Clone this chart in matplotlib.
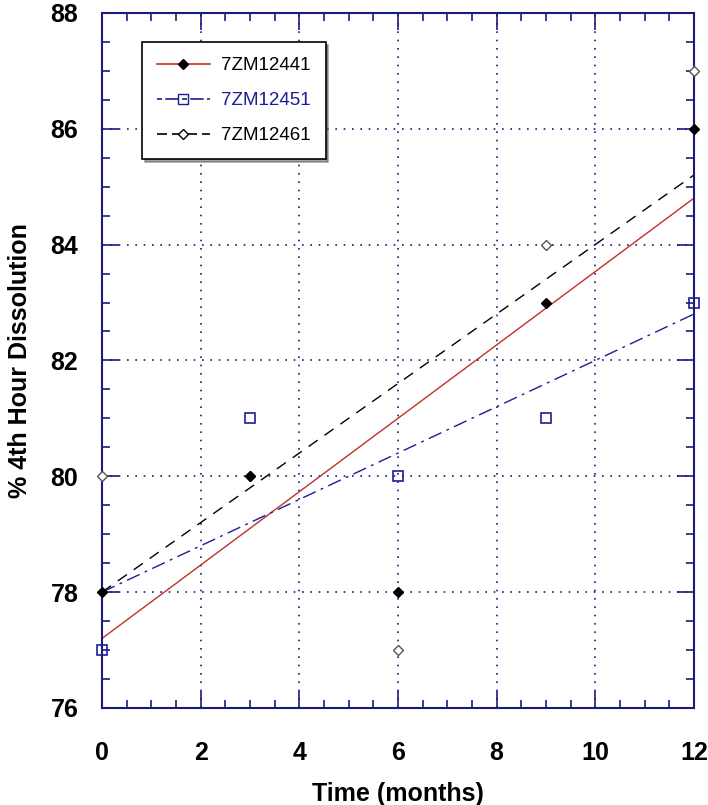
import numpy as np
import matplotlib.pyplot as plt
from matplotlib.ticker import MultipleLocator
from matplotlib.lines import Line2D

months = [0, 3, 6, 9, 12]
lot_441 = [78, 80, 78, 83, 86]
lot_451 = [77, 81, 80, 81, 83]
lot_461 = [80, 80, 77, 84, 87]
names = ['7ZM12441', '7ZM12451', '7ZM12461']

navy = '#1a1a80'
plt.rcParams['font.family'] = ['Liberation Sans Narrow', 'Liberation Sans', 'DejaVu Sans']

fig = plt.figure(figsize=(7.08, 8.05), dpi=100)
ax = fig.add_axes([0.144, 0.1205, 0.836, 0.8635])

xfit = np.array([0, 12])
# linear fits
for y, col, ls in [(lot_441, '#c0302a', '-'), (lot_451, '#1c1c96', (0, (10, 4, 2, 4))),
                   (lot_461, 'black', (0, (8, 6)))]:
    k, b = np.polyfit(months, y, 1)
    ax.plot(xfit, k * xfit + b, color=col, lw=1.0, ls=ls)

ax.plot(months, lot_461, 'D', ms=5, mfc='white', mec='#555555', mew=1, ls='none', clip_on=False, zorder=3)
ax.plot(months, lot_451, 's', ms=7, mfc='none', mec='#1c1c96', mew=1.2, ls='none', clip_on=False, zorder=3)
ax.plot(months, lot_441, 'D', ms=5.5, mfc='black', mec='black', ls='none', clip_on=False, zorder=4)

ax.set_xlim(0, 12)
ax.set_ylim(76, 88)
ax.xaxis.set_major_locator(MultipleLocator(2))
ax.xaxis.set_minor_locator(MultipleLocator(0.5))
ax.yaxis.set_major_locator(MultipleLocator(2))
ax.yaxis.set_minor_locator(MultipleLocator(0.5))
ax.grid(True, which='major', color=navy, ls=(0, (1, 4)), lw=1.2)
ax.tick_params(which='both', direction='in', top=True, right=True, color=navy, width=1.2)
ax.tick_params(which='major', length=12, labelsize=18)
ax.tick_params(axis='x', which='major', pad=24)
ax.tick_params(axis='y', which='major', pad=17)
ax.tick_params(which='minor', length=6)
for lab in ax.get_xticklabels() + ax.get_yticklabels():
    lab.set_fontweight('bold')
for s in ax.spines.values():
    s.set_color(navy)
    s.set_linewidth(1.5)

ax.set_xlabel('Time (months)', fontsize=18, fontweight='bold', labelpad=12)
ax.set_ylabel('% 4th Hour Dissolution', fontsize=18, fontweight='bold', labelpad=13)

handles = [
    Line2D([], [], color='#c0302a', lw=1.2, marker='D', ms=5.5, mfc='black', mec='black'),
    Line2D([], [], color='#1c1c96', lw=1.2, ls=(0, (3, 2, 8, 2)), marker='s', ms=7, mfc='none', mec='#1c1c96'),
    Line2D([], [], color='black', lw=1.2, ls=(0, (6, 3)), marker='D', ms=5, mfc='white', mec='black'),
]
leg = ax.legend(handles, names, loc='upper left', bbox_to_anchor=(0.068, 0.958), borderaxespad=0,
                fontsize=13.5, frameon=True, fancybox=False, shadow=True,
                borderpad=0.8, labelspacing=0.95, handlelength=2.8, handletextpad=0.6)
leg.get_frame().set_edgecolor('black')
leg.get_frame().set_linewidth(1.2)
leg.get_texts()[1].set_color('#1c1c96')

fig.savefig('out.png', dpi=100)
